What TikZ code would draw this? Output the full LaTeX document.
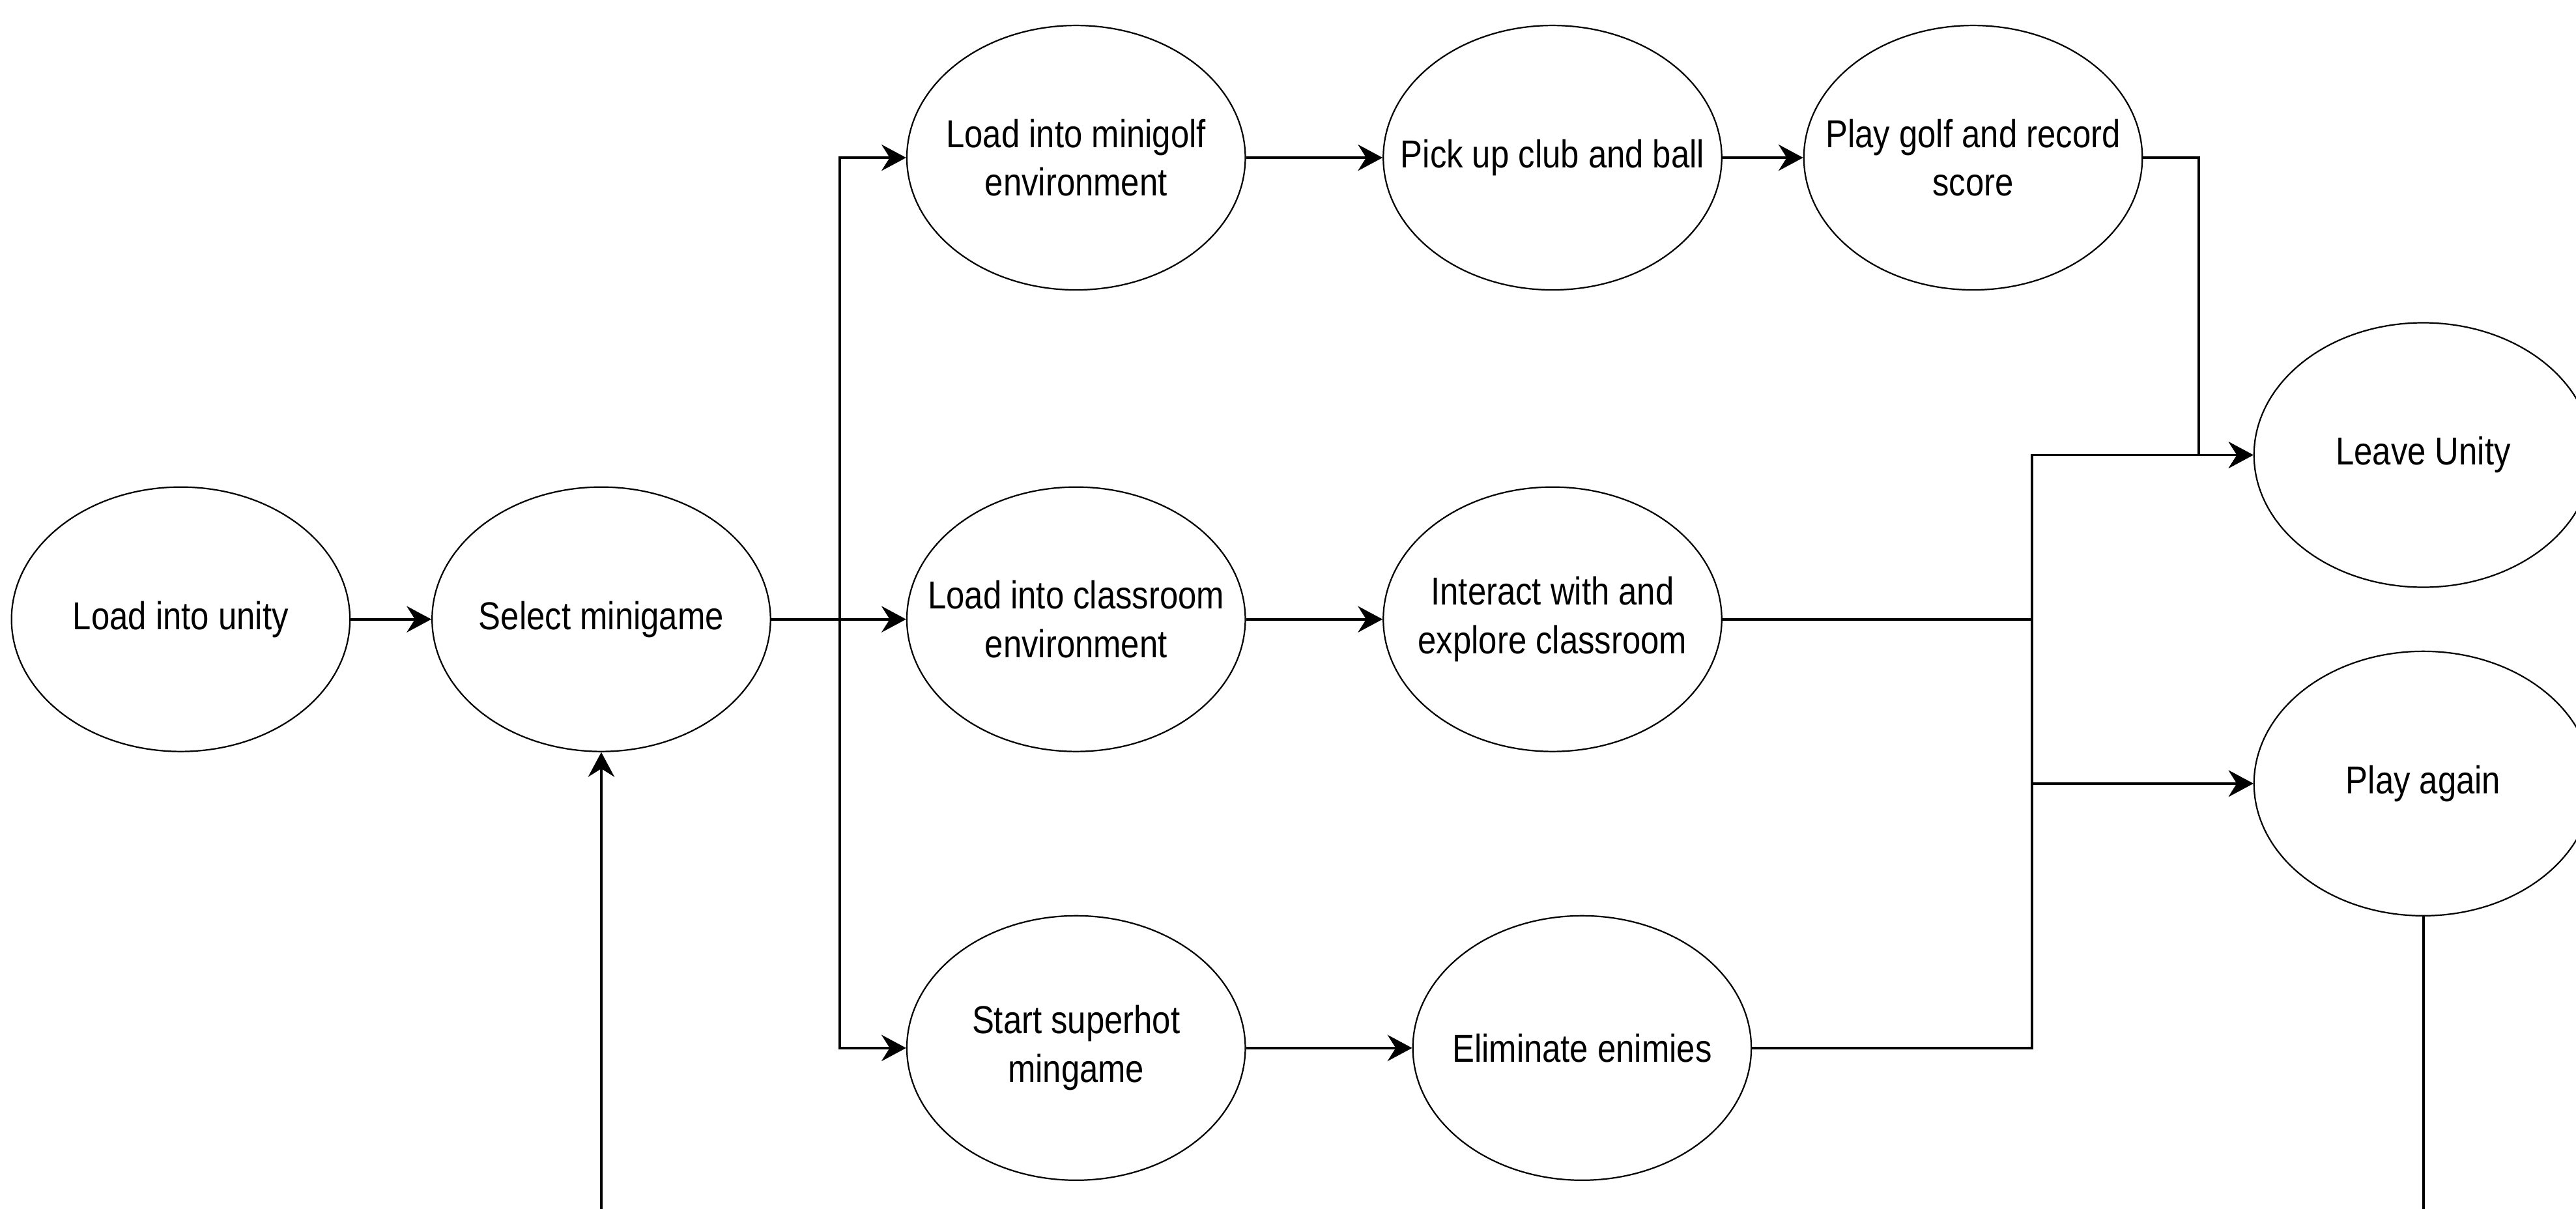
\documentclass[tikz,border=0pt]{standalone}
\usepackage{fontspec}
\setmainfont[FakeStretch=0.85]{Liberation Sans}
\usepackage{tikz}
\usetikzlibrary{arrows.meta}
\usetikzlibrary{shapes.geometric}
\tikzset{st/.style={draw, ellipse, line width=0.5pt, minimum width=41.2mm, minimum height=32.2mm, inner sep=-30mm, align=center, font=\fontsize{13.5}{16.9}\selectfont}}
\tikzset{flow/.style={line width=0.9pt}}

\begin{document}
\begin{tikzpicture}[x=0.2mm, y=-0.2mm, >={Stealth[length=3mm, width=3.2mm, inset=1mm]}]
        \useasboundingbox (0,0) rectangle (1568,736);
        \clip (0,0) rectangle (1568,736);
        \node[st] (U) at (110,377) {Load into unity};
        \node[st] (S) at (366,377) {Select minigame}
          edge [<-, flow] (U);
        \node[st] (G1) at (655,96) {Load into minigolf\\environment};
        \node[st] (G2) at (945,96) {Pick up club and ball}
          edge [<-, flow] (G1);
        \node[st] (G3) at (1201,96) {Play golf and record\\score}
          edge [<-, flow] (G2);
        \node[st] (C1) at (655,377) {Load into classroom\\environment};
        \node[st] (C2) at (945,377) {Interact with and\\explore classroom}
          edge [<-, flow] (C1);
        \node[st] (H1) at (655,638) {Start superhot\\mingame};
        \node[st] (H2) at (963,638) {Eliminate enimies}
          edge [<-, flow] (H1);
        \node[st] (L) at (1475,277) {Leave Unity};
        \node[st] (P) at (1475,477) {Play again};
        \coordinate (split) at (511,377);
        \coordinate (join) at (1237,377);
        \coordinate (bot) at (0,800);
        \draw[flow, ->] (S) -- (split) |- (G1);
        \draw[flow, ->] (split) -- (C1);
        \draw[flow, ->] (split) |- (H1);
        \draw[flow, ->] (G3.east) -- ++(34,0) |- (L);
        \draw[flow, ->] (C2) -- (join) |- (L);
        \draw[flow, ->] (C2) -- (join) |- (P);
        \draw[flow, ->] (H2) -- (H2 -| join) |- (P);
        \draw[flow, ->] (P) -- (P |- bot) -| (S);
      \end{tikzpicture}
\end{document}
